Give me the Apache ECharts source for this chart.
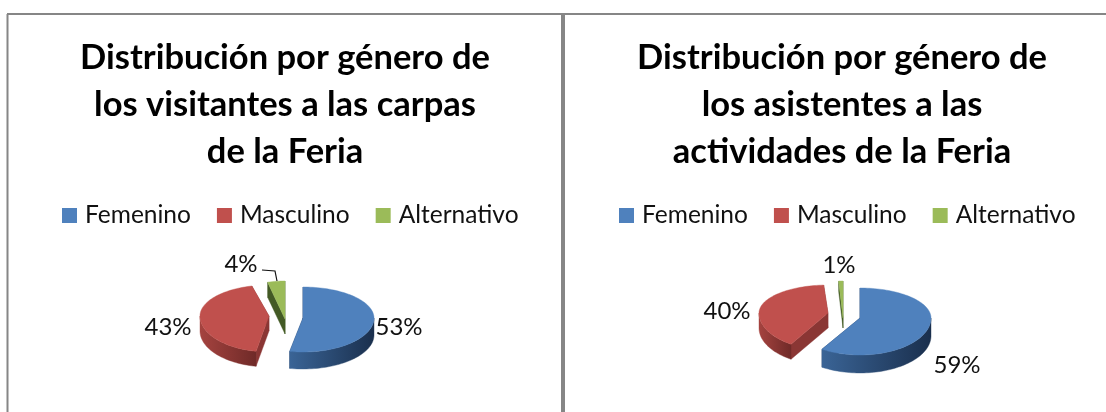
<!DOCTYPE html>
<html><head><meta charset="utf-8">
<style>html,body{margin:0;padding:0;background:#fff}#c{width:1106px;height:412px}</style>
<script src="https://cdn.jsdelivr.net/npm/echarts@6/dist/echarts.min.js"></script>
</head><body><div id="c"></div>
<script>
const categories = ['Femenino', 'Masculino', 'Alternativo'];
const carpasValues = [53, 43, 4];
const actividadesValues = [59, 40, 1];
const carpasTitle = 'Distribución por género de\nlos visitantes a las carpas\nde la Feria';
const actividadesTitle = 'Distribución por género de\nlos asistentes a las\nactividades de la Feria';

const FONT = 'Lato';
const topColors = ['#4F81BD', '#C0504D', '#9BBB59'];
const wallLeft = ['#3A6496', '#A5433F', '#5E7A33'];
const wallRight = ['#1A2F4D', '#6F2A28', '#3C5020'];
const faceColors = ['#1F3A5F', '#8A3634', '#435A25'];

// per-slice apex, radii (back/front vertical), wall depth and label anchor
const layouts = [
  { values: carpasValues, slices: [
    { cx: 303, cy: 318, rx: 71, back: 31, front: 34, depth: 17, lx: 399, ly: 327 },
    { cx: 269, cy: 316, rx: 69, back: 31, front: 36, depth: 15, lx: 168, ly: 327 },
    { cx: 285, cy: 319, rx: 70, back: 38, front: 36, depth: 15, lx: 241, ly: 264, leader: [[262, 270], [275, 271], [277, 281]] }
  ]},
  { values: actividadesValues, slices: [
    { cx: 860, cy: 318, rx: 71, back: 30, front: 37, depth: 18, lx: 957, ly: 365 },
    { cx: 828, cy: 313, rx: 69, back: 28, front: 37, depth: 15, lx: 727, ly: 311 },
    { cx: 843, cy: 318, rx: 70, back: 37, front: 36, depth: 10, lx: 839, ly: 265 }
  ]}
];

function pt(s, deg, dy) {
  const a = deg * Math.PI / 180, c = Math.cos(a);
  return [s.cx + s.rx * Math.sin(a), s.cy - c * (c > 0 ? s.back : s.front) + (dy || 0)];
}
function arc(s, from, to, dy) {
  const out = [], n = Math.max(2, Math.ceil((to - from) / 2));
  for (let i = 0; i <= n; i++) out.push(pt(s, from + (to - from) * i / n, dy));
  return out;
}
function poly(points, fill, z) {
  return { type: 'polygon', z2: z, shape: { points }, style: { fill, stroke: fill, lineWidth: 0.4 } };
}
function makeItem(chartIdx, sliceIdx) {
  const L = layouts[chartIdx], s = L.slices[sliceIdx];
  const total = L.values.reduce((a, b) => a + b, 0);
  let cum = 0;
  for (let i = 0; i < sliceIdx; i++) cum += L.values[i];
  const from = cum / total * 360, to = (cum + L.values[sliceIdx]) / total * 360;
  return function (params, api) {
    const children = [];
    const apex = [s.cx, s.cy], apexD = [s.cx, s.cy + s.depth];
    const pf = pt(s, from), pt2 = pt(s, to);
    // radial cut faces
    children.push(poly([apex, pf, pt(s, from, s.depth), apexD], faceColors[sliceIdx], 1));
    children.push(poly([apex, pt2, pt(s, to, s.depth), apexD], faceColors[sliceIdx], 1));
    // front outer wall
    const a = Math.max(from, 90), b = Math.min(to, 270);
    if (b > a) {
      const top = arc(s, a, b), bot = arc(s, a, b, s.depth).reverse();
      const grad = new echarts.graphic.LinearGradient(0, 0, 1, 0, [
        { offset: 0, color: wallLeft[sliceIdx] }, { offset: 1, color: wallRight[sliceIdx] }
      ]);
      children.push(poly(top.concat(bot), grad, 2));
    }
    // top surface
    children.push(poly([apex].concat(arc(s, from, to)), topColors[sliceIdx], 3));
    // label
    children.push({ type: 'text', z2: 5, style: {
      x: s.lx, y: s.ly, text: api.value(0) + '%', fill: '#111', font: '24px ' + FONT,
      align: 'center', verticalAlign: 'middle' } });
    if (s.leader) children.push({ type: 'polyline', z2: 5, shape: { points: s.leader },
      style: { stroke: '#111', lineWidth: 1.2, fill: 'none' } });
    return { type: 'group', children };
  };
}

const series = [];
layouts.forEach((L, c) => categories.forEach((name, i) => {
  series.push({
    type: 'custom', name, coordinateSystem: 'none', silent: true,
    itemStyle: { color: topColors[i] },
    data: [[L.values[i]]], renderItem: makeItem(c, i), animation: false
  });
}));

const chart = echarts.init(document.getElementById('c'), null, { renderer: 'canvas' });
const titleStyle = { fontFamily: FONT, fontWeight: 'bold', fontSize: 34.5, lineHeight: 47, color: '#000', align: 'center' };
const legendBase = {
  orient: 'horizontal', top: 203, padding: 0, itemWidth: 15, itemHeight: 15, itemGap: 26, icon: 'rect',
  data: categories, selectedMode: false,
  textStyle: { fontFamily: FONT, fontSize: 24.5, color: '#111', padding: [0, 0, 0, 3] }
};
chart.setOption({
  backgroundColor: '#fff',
  animation: false,
  title: [
    { text: carpasTitle, left: 285, top: 34, padding: 0, textAlign: 'center', textStyle: titleStyle },
    { text: actividadesTitle, left: 842, top: 34, padding: 0, textAlign: 'center', textStyle: titleStyle }
  ],
  legend: [
    Object.assign({}, legendBase, { left: 62 }),
    Object.assign({}, legendBase, { left: 619 })
  ],
  graphic: [
    { type: 'line', shape: { x1: 7, y1: 14, x2: 1106, y2: 14 }, style: { stroke: '#868686', lineWidth: 2 } },
    { type: 'line', shape: { x1: 7.5, y1: 14, x2: 7.5, y2: 412 }, style: { stroke: '#868686', lineWidth: 2 } },
    { type: 'line', shape: { x1: 563, y1: 14, x2: 563, y2: 412 }, style: { stroke: '#868686', lineWidth: 4 } }
  ],
  series
});
</script></body></html>
